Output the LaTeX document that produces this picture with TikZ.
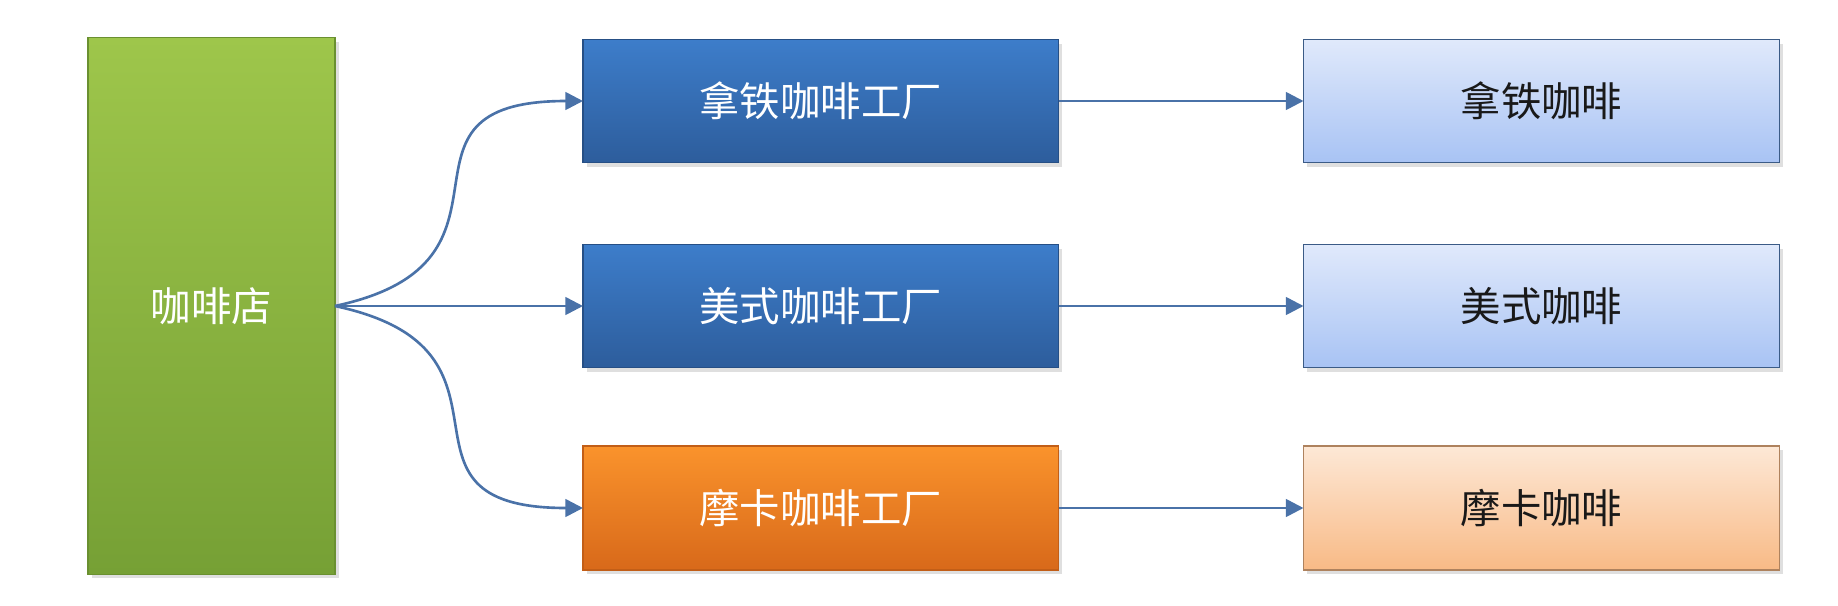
\documentclass[tikz,border=0pt]{standalone}
\usepackage{fontspec}
\newfontfamily\cjk{Noto Sans CJK SC}
\usepackage{tikz}
\usetikzlibrary{arrows.meta,positioning,shadows}
\definecolor{shopTop}{HTML}{9EC64B}
\definecolor{shopBot}{HTML}{76A035}
\definecolor{facTop}{HTML}{3D7DCA}
\definecolor{facBot}{HTML}{2D5D9C}
\definecolor{mochaTop}{HTML}{FA932C}
\definecolor{mochaBot}{HTML}{D8691A}
\definecolor{cupTop}{HTML}{E0E9FB}
\definecolor{cupBot}{HTML}{A8C3F4}
\definecolor{cupTopO}{HTML}{FDE8D6}
\definecolor{cupBotO}{HTML}{F8BA86}
\definecolor{linkcol}{HTML}{4A72A8}
\tikzset{>={Triangle[length=5pt,width=5pt]},
	box/.style={% plain rectangle with centred text
		rectangle,
		inner sep=0pt,
		outer sep=0pt,
		font=\cjk\fontsize{11.5}{14}\selectfont,
		align=center,
		drop shadow={opacity=0.25, shadow xshift=1pt, shadow yshift=-1.2pt}
	},
	shopbox/.style={box, draw=shopBot!90!black, top color=shopTop, bottom color=shopBot,
		text=white, minimum width=2.47cm, minimum height=5.365cm},
	facbox/.style={box, draw=facBot!85!black, top color=facTop, bottom color=facBot,
		text=white, minimum width=4.755cm, minimum height=1.23cm},
	mochafac/.style={facbox, draw=mochaBot!90!black, top color=mochaTop, bottom color=mochaBot},
	cupbox/.style={box, draw=linkcol!80!black, top color=cupTop, bottom color=cupBot,
		text=black!90, minimum width=4.76cm, minimum height=1.23cm},
	mochacup/.style={cupbox, draw=cupBotO!70!black, top color=cupTopO, bottom color=cupBotO},
	link/.style={->, draw=linkcol, line width=0.75pt}
}
\begin{document}
\begin{tikzpicture}
	\useasboundingbox (0,0) rectangle (18.38,6.05);
	\node[shopbox] (shop) at (2.115,2.99) {咖啡店};
	\node[facbox] (usFac) [right=2.48cm of shop] {美式咖啡工厂};
	\node[facbox] (latteFac) [above=0.82cm of usFac] {拿铁咖啡工厂};
	\node[mochafac, minimum height=1.24cm] (mochaFac) [below=0.785cm of usFac] {摩卡咖啡工厂};
	
	\node[cupbox] (latte) [right=2.45cm of latteFac] {拿铁咖啡};
	\node[cupbox] (us) [right=2.45cm of usFac] {美式咖啡};
	\node[mochacup, minimum height=1.24cm] (mocha) [right=2.45cm of mochaFac] {摩卡咖啡};
	
	% shop to factories
	\draw[link] (shop.east) to[out=12, in=180, looseness=1.7] (latteFac.west);
	\draw[link] (shop.east) -- (usFac.west);
	\draw[link] (shop.east) to[out=-12, in=180, looseness=1.7] (mochaFac.west);
	% factories to coffee
	\draw[link] (latteFac) -- (latte);
	\draw[link] (usFac) -- (us);
	\draw[link] (mochaFac) -- (mocha);
\end{tikzpicture}
\end{document}
